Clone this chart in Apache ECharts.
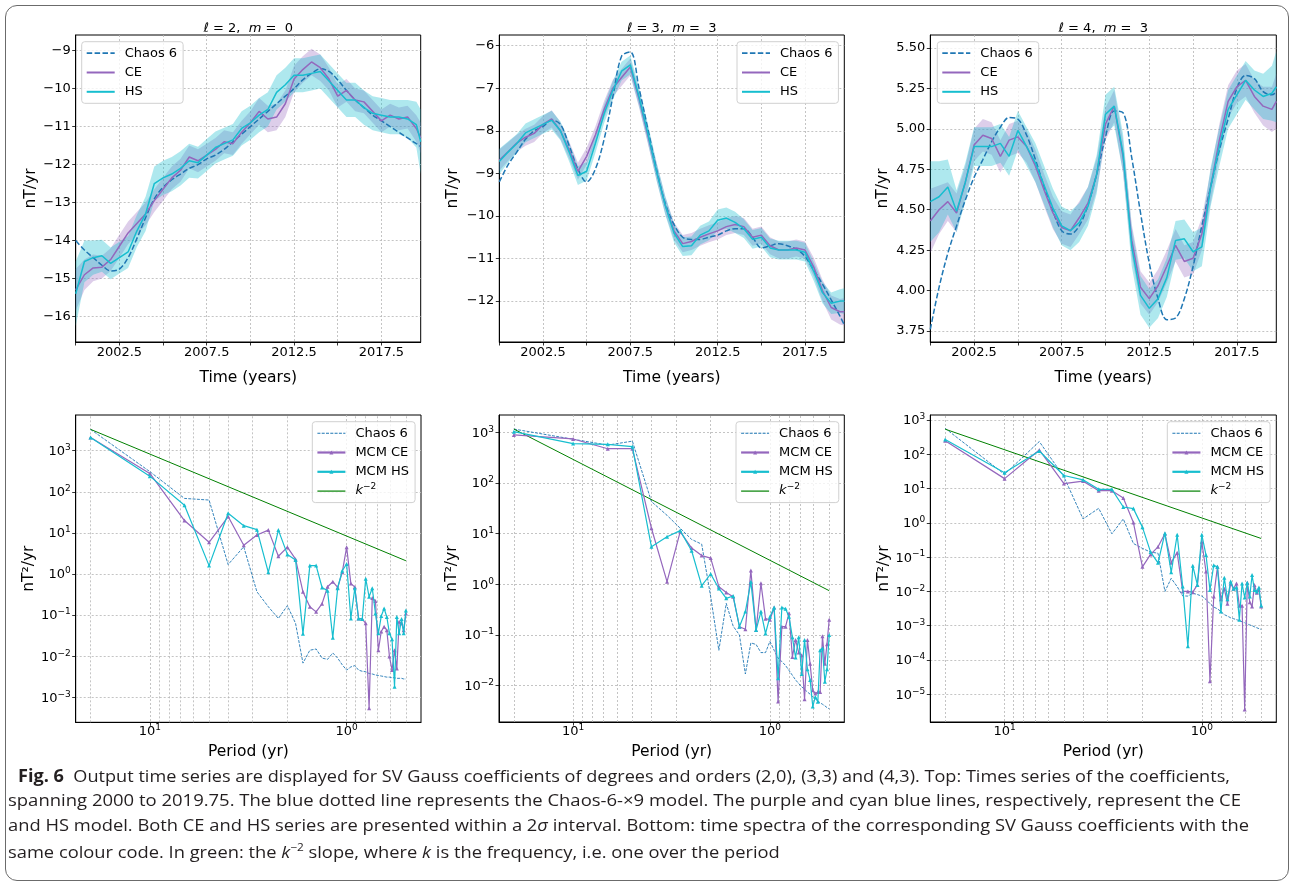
<!DOCTYPE html>
<html><head><meta charset="utf-8">
<script src="https://cdn.jsdelivr.net/npm/echarts@6.0.0/dist/echarts.min.js"></script>
<style>
html,body{margin:0;padding:0;background:#fff;}
body{width:1290px;height:882px;position:relative;overflow:hidden;}
#frame{position:absolute;left:5px;top:5px;width:1284px;height:876px;border:1.5px solid #6b6b6b;border-radius:12px;box-sizing:border-box;}
#chart{position:absolute;left:0;top:0;width:1290px;height:882px;}
#cap{position:absolute;left:0;top:764px;font-family:'Open Sans',sans-serif;font-size:17px;color:#231f20;}
#cap .ln{position:absolute;white-space:nowrap;transform-origin:0 50%;line-height:24px;}
#cap i{font-style:italic;}
#cap sup{font-size:11px;line-height:0;}
</style></head><body>
<div id="frame"></div>
<div id="chart"></div>
<div id="cap">
<div class="ln" style="left:18px;top:0px"><b>Fig. 6</b>&nbsp; Output time series are displayed for SV Gauss coefficients of degrees and orders (2,0), (3,3) and (4,3). Top: Times series of the coefficients,</div>
<div class="ln" style="left:8px;top:24px">spanning 2000 to 2019.75. The blue dotted line represents the Chaos-6-×9 model. The purple and cyan blue lines, respectively, represent the CE</div>
<div class="ln" style="left:8px;top:49px">and HS model. Both CE and HS series are presented within a 2<i>σ</i> interval. Bottom: time spectra of the corresponding SV Gauss coefficients with the</div>
<div class="ln" style="left:8px;top:76px">same colour code. In green: the <i>k</i><sup>−2</sup> slope, where <i>k</i> is the frequency, i.e. one over the period</div>
</div>
<script>
// ---------- time axis (top row) ----------
const tTop = [2000,2000.5,2001,2001.5,2002,2002.5,2003,2003.5,2004,2004.5,
  2005,2005.5,2006,2006.5,2007,2007.5,2008,2008.5,2009,2009.5,
  2010,2010.5,2011,2011.5,2012,2012.5,2013,2013.5,2014,2014.5,
  2015,2015.5,2016,2016.5,2017,2017.5,2018,2018.5,2019,2019.5,2019.75];
const xTicksTop = [2000,2002.5,2005,2007.5,2010,2012.5,2015,2017.5];
const xLabelsTop = [2002.5,2007.5,2012.5,2017.5];

// ---- l=2, m=0 ----
const chaos20 = [-14.0,-14.25,-14.45,-14.65,-14.8,-14.75,-14.45,-13.95,-13.4,-12.9,
  -12.6,-12.4,-12.25,-12.1,-12.0,-11.85,-11.75,-11.6,-11.4,-11.2,
  -11.0,-10.8,-10.6,-10.4,-10.2,-10.0,-9.77,-9.6,-9.48,-9.55,
  -9.77,-10.05,-10.3,-10.5,-10.7,-10.85,-11.0,-11.15,-11.3,-11.45,-11.52];
const ce20 = [-15.3,-14.9,-14.72,-14.7,-14.5,-14.15,-13.8,-13.55,-13.3,-12.95,
  -12.65,-12.35,-12.15,-11.8,-11.9,-11.75,-11.6,-11.4,-11.45,-11.15,
  -10.9,-10.6,-10.8,-10.75,-10.4,-9.75,-9.5,-9.3,-9.45,-9.75,
  -10.2,-10.05,-10.3,-10.35,-10.6,-10.85,-10.7,-10.8,-10.75,-11.05,-11.3];
const hs20 = [-15.4,-14.55,-14.45,-14.4,-14.6,-14.45,-14.3,-13.75,-13.3,-12.5,
  -12.35,-12.25,-12.1,-11.9,-11.95,-11.75,-11.55,-11.45,-11.35,-11.05,
  -10.9,-10.7,-10.55,-10.1,-9.9,-9.65,-9.65,-9.6,-9.55,-9.8,
  -10.05,-10.3,-10.3,-10.5,-10.65,-10.7,-10.75,-10.75,-10.8,-10.95,-11.4];
const ceSig20 = [0.55,0.4,0.35,0.3,0.3,0.3,0.3,0.3,0.3,0.3,
  0.3,0.3,0.3,0.3,0.3,0.3,0.3,0.3,0.3,0.3,
  0.3,0.35,0.35,0.35,0.35,0.35,0.35,0.35,0.35,0.3,
  0.3,0.3,0.3,0.3,0.3,0.3,0.3,0.3,0.3,0.35,0.4];
const hsSig20 = [0.85,0.55,0.45,0.42,0.42,0.42,0.42,0.42,0.45,0.45,
  0.45,0.45,0.45,0.45,0.42,0.42,0.42,0.42,0.42,0.45,
  0.45,0.45,0.45,0.45,0.45,0.45,0.45,0.45,0.45,0.45,
  0.45,0.45,0.45,0.45,0.45,0.45,0.45,0.45,0.5,0.6,0.85];
const yTicks20 = [-16,-15,-14,-13,-12,-11,-10,-9];

// ---- l=3, m=3 ----
const chaos33 = [-9.2,-8.8,-8.5,-8.2,-8.0,-7.9,-7.75,-7.85,-8.35,-8.9,
  -9.2,-8.9,-8.2,-7.2,-6.25,-6.15,-7.0,-7.95,-8.9,-9.7,
  -10.2,-10.5,-10.55,-10.55,-10.5,-10.45,-10.35,-10.3,-10.3,-10.5,
  -10.75,-10.7,-10.65,-10.7,-10.78,-10.95,-11.27,-11.6,-11.97,-12.35,-12.56];
const ce33 = [-8.69,-8.49,-8.29,-8.15,-8.06,-7.85,-7.72,-8.0,-8.45,-8.95,
  -8.6,-8.1,-7.5,-7.0,-6.75,-6.5,-7.25,-8.1,-8.95,-9.75,
  -10.35,-10.65,-10.6,-10.5,-10.42,-10.35,-10.25,-10.2,-10.25,-10.5,
  -10.45,-10.7,-10.8,-10.8,-10.75,-10.8,-11.2,-11.75,-12.15,-12.25,-12.25];
const hs33 = [-8.72,-8.5,-8.3,-8.05,-7.95,-7.85,-7.75,-8.0,-8.5,-9.05,
  -8.95,-8.3,-7.6,-7.05,-6.6,-6.45,-7.2,-8.05,-8.95,-9.75,
  -10.4,-10.72,-10.7,-10.45,-10.35,-10.1,-10.05,-10.15,-10.3,-10.55,
  -10.5,-10.75,-10.8,-10.8,-10.8,-10.85,-11.3,-11.8,-12.05,-12.0,-12.0];
const ceSig33 = [0.25,0.22,0.2,0.2,0.2,0.2,0.2,0.2,0.2,0.2,
  0.2,0.2,0.2,0.2,0.2,0.2,0.2,0.2,0.2,0.2,
  0.2,0.2,0.2,0.2,0.2,0.2,0.2,0.2,0.2,0.2,
  0.2,0.2,0.2,0.2,0.2,0.2,0.22,0.25,0.28,0.3,0.32];
const hsSig33 = [0.3,0.25,0.22,0.22,0.22,0.22,0.22,0.22,0.22,0.22,
  0.22,0.22,0.22,0.22,0.22,0.22,0.22,0.22,0.22,0.22,
  0.22,0.22,0.22,0.22,0.22,0.25,0.25,0.25,0.22,0.22,
  0.22,0.22,0.22,0.22,0.22,0.22,0.22,0.25,0.25,0.28,0.3];
const yTicks33 = [-12,-11,-10,-9,-8,-7,-6];

// ---- l=4, m=3 ----
const chaos43 = [3.76,4.02,4.23,4.4,4.56,4.7,4.81,4.92,5.01,5.07,
  5.06,4.96,4.81,4.64,4.49,4.37,4.35,4.4,4.53,4.72,
  4.95,5.11,5.1,4.82,4.48,4.17,3.95,3.82,3.83,3.95,
  4.15,4.4,4.64,4.87,5.06,5.25,5.33,5.31,5.23,5.21,5.23];
const ce43 = [4.43,4.5,4.55,4.48,4.67,4.9,4.96,4.94,4.83,4.93,
  4.95,4.89,4.77,4.62,4.48,4.39,4.37,4.45,4.54,4.72,
  5.03,5.14,4.83,4.31,4.02,3.95,4.03,4.15,4.28,4.18,
  4.2,4.35,4.64,4.93,5.17,5.26,5.3,5.2,5.14,5.12,5.17];
const hs43 = [4.55,4.58,4.64,4.49,4.67,4.89,4.89,4.89,4.91,4.83,
  4.99,4.89,4.79,4.65,4.51,4.4,4.37,4.42,4.52,4.72,
  5.09,5.14,4.85,4.27,3.97,3.89,3.95,4.08,4.31,4.32,
  4.24,4.27,4.64,4.89,5.12,5.21,5.3,5.24,5.2,5.22,5.26];
const ceSig43 = [0.2,0.15,0.12,0.12,0.1,0.1,0.1,0.1,0.1,0.1,
  0.1,0.1,0.1,0.1,0.1,0.1,0.1,0.1,0.1,0.1,
  0.1,0.1,0.1,0.1,0.1,0.1,0.1,0.1,0.1,0.1,
  0.1,0.1,0.1,0.1,0.1,0.1,0.1,0.1,0.12,0.14,0.17];
const hsSig43 = [0.25,0.22,0.17,0.13,0.12,0.12,0.12,0.12,0.12,0.12,
  0.12,0.12,0.12,0.12,0.12,0.12,0.12,0.12,0.12,0.12,
  0.12,0.12,0.12,0.12,0.12,0.12,0.12,0.12,0.12,0.12,
  0.12,0.12,0.12,0.12,0.12,0.12,0.12,0.12,0.14,0.17,0.22];
const yTicks43 = [3.75,4.0,4.25,4.5,4.75,5.0,5.25,5.5];

// ---------- spectra (bottom row) ----------
const periods = [20,10,6.667,5,4,3.333,2.857,2.5,2.222,2,
  1.818,1.667,1.538,1.429,1.333,1.25,1.176,1.111,1.053,1,
  0.952,0.909,0.870,0.833,0.8,0.769,0.741,0.714,0.690,0.667,
  0.645,0.625,0.606,0.588,0.571,0.556,0.541,0.526,0.513,0.5];
const kPeriods = [20,0.5];
const minorPeriods = [20,9,8,7,6,5,4,3,2,0.9,0.8,0.7,0.6,0.5];
const decadesX = [1,10];

const chaosS1 = [3300,310,69,63,1.7,4.6,0.37,0.16,0.083,0.17,
  0.063,0.0068,0.014,0.015,0.009,0.0084,0.012,0.009,0.0062,0.0046,
  0.0055,0.0059,0.0046,0.0043,0.0042,0.0038,0.0037,0.0035,0.0034,0.0033,
  0.0032,0.0031,0.0031,0.0030,0.0030,0.0029,0.0029,0.0029,0.0028,0.0028];
const ceS1 = [2100,280,20,5.9,25,5.0,8.9,11.7,2.7,4.5,
  2.3,0.37,0.16,0.12,0.19,0.49,0.65,0.47,1.1,4.5,
  0.59,0.48,0.083,0.08,0.063,0.00054,0.26,0.22,0.014,0.04,
  0.052,0.043,0.0098,0.0046,0.014,0.005,0.069,0.063,0.043,0.11];
const hsS1 = [2100,240,47,1.6,30,15,12,1.1,11.7,3.0,
  2.2,0.035,1.6,1.6,0.47,0.39,0.028,0.45,1.2,1.75,
  0.083,0.45,0.083,0.08,0.77,0.28,0.45,0.11,0.036,0.095,
  0.145,0.09,0.036,0.026,0.0018,0.09,0.036,0.08,0.036,0.13];
const kS1 = [3300,2.1];
const yTicksS1 = [1e-3,1e-2,1e-1,1,10,100,1000];

const chaosS2 = [1160,730,560,670,43,23,12.8,7.7,6.2,0.57,
  0.05,0.42,0.15,0.1,0.017,0.07,0.065,0.045,0.045,0.075,
  0.05,0.035,0.03,0.025,0.02,0.016,0.013,0.011,0.0095,0.0085,
  0.0075,0.0068,0.006,0.0055,0.005,0.0046,0.0043,0.004,0.0037,0.0035];
const ceS2 = [890,740,475,475,12.8,1.13,11,5.2,3.7,3.3,
  0.9,0.69,0.57,0.146,0.13,1.87,0.125,1.05,0.21,0.2,
  0.35,0.0049,0.146,0.146,0.27,0.037,0.08,0.045,0.04,0.0054,
  0.08,0.027,0.0081,0.007,0.0075,0.0075,0.095,0.027,0.066,0.2];
const hsS2 = [1030,600,580,520,5.5,8.7,11.5,4.6,0.94,1.6,
  0.83,0.53,0.59,0.146,0.29,1.12,0.125,0.29,0.107,0.23,
  0.35,0.014,0.35,0.33,0.23,0.09,0.036,0.09,0.017,0.08,
  0.021,0.013,0.0039,0.006,0.0048,0.05,0.055,0.012,0.021,0.1];
const kS2 = [1160,0.75];
const yTicksS2 = [1e-2,1e-1,1,10,100,1000];

const chaosS3 = [570,26,235,22,1.3,2.65,0.48,1.3,0.25,0.18,
  0.14,0.13,0.01,0.024,0.0138,0.0074,0.0073,0.0089,0.0081,0.0073,
  0.0058,0.0044,0.0035,0.0031,0.0026,0.0021,0.0019,0.0017,0.0016,0.0015,
  0.0014,0.0013,0.00122,0.00113,0.00105,0.001,0.00093,0.00087,0.00082,0.00078];
const ceS3 = [250,19.5,134,14,16.5,8.7,8.7,5.3,1.02,0.052,
  0.12,0.2,0.48,0.069,0.135,0.01,0.01,0.0095,0.0155,0.28,
  0.038,0.000024,0.0071,0.052,0.0059,0.012,0.0044,0.017,0.012,0.017,
  0.0038,0.0038,0.0000036,0.018,0.0048,0.0036,0.0155,0.0091,0.011,0.0036];
const hsS3 = [270,29,125,24,18,9.5,9.5,2.9,2.6,0.75,
  0.14,0.068,0.5,0.036,0.45,0.0138,0.00025,0.056,0.0155,0.45,
  0.115,0.011,0.058,0.052,0.0026,0.025,0.0059,0.0195,0.012,0.013,
  0.0015,0.017,0.0066,0.018,0.0071,0.03,0.011,0.01,0.013,0.0039];
const kS3 = [540,0.35];
const yTicksS3 = [1e-5,1e-4,1e-3,1e-2,1e-1,1,10,100,1000];

// ---------- styling / layout ----------
const FONT = 'DejaVu Sans';
const C_CHAOS = '#1f77b4', C_CE = '#9467bd', C_HS = '#17becf', C_K = '#008000';
const GRIDCOL = '#b5b5b5';

const topPanels = [
  {l:'2', m:'0', chaos:chaos20, ce:ce20, hs:hs20, ceSig:ceSig20, hsSig:hsSig20, ymin:-16.67, ymax:-8.59, yt:yTicks20, dec:0,
   grid:{left:75.7, top:35, width:345, height:307}, legend:{left:81.7, top:41.7}, nameGap:35},
  {l:'3', m:'3', chaos:chaos33, ce:ce33, hs:hs33, ceSig:ceSig33, hsSig:hsSig33, ymin:-12.96, ymax:-5.75, yt:yTicks33, dec:0,
   grid:{left:499.3, top:35, width:345, height:307}, legend:{left:737, top:41.7}, nameGap:38.5},
  {l:'4', m:'3', chaos:chaos43, ce:ce43, hs:hs43, ceSig:ceSig43, hsSig:hsSig43, ymin:3.682, ymax:5.58, yt:yTicks43, dec:2,
   grid:{left:930.3, top:35, width:346, height:307}, legend:{left:937.3, top:41.7}, nameGap:39.5}
];
const botPanels = [
  {chaos:chaosS1, ce:ceS1, hs:hsS1, k:kS1, ymin:2.47e-4, ymax:7380, yt:yTicksS1,
   grid:{left:75.7, top:415, width:345.3, height:307.3}, legend:{left:312.3, top:421.7}, nameGap:36},
  {chaos:chaosS2, ce:ceS2, hs:hsS2, k:kS2, ymin:1.92e-3, ymax:2198, yt:yTicksS2,
   grid:{left:499, top:415, width:345.3, height:307}, legend:{left:736, top:421.7}, nameGap:37.5},
  {chaos:chaosS3, ce:ceS3, hs:hsS3, k:kS3, ymin:1.55e-6, ymax:1400, yt:yTicksS3,
   grid:{left:930.3, top:415, width:346, height:307}, legend:{left:1167.3, top:421.7}, nameGap:37.5}
];

function pairs(xs, ys){ return xs.map((x,i)=>[x, ys[i]]); }
function minusFmt(v){ return (v<0?'\u2212':'') + Math.abs(v); }
function powLabel(v){
  const lg = Math.log10(v), e = Math.round(lg);
  if (Math.abs(lg-e) > 1e-6) return '';
  return '{b|10}{s|' + (e<0 ? '\u2212'+(-e) : e) + '}';
}
// band drawn as a polygon through the axes' own coordinate conversion
function bandSeries(i, name, center, sig, color, opacity){
  return {type:'custom', name:name, xAxisIndex:i, yAxisIndex:i, silent:true, z:1, clip:true,
    data:[[tTop[0], center[0]]],
    renderItem:(params, api) => {
      const up = tTop.map((t,k)=>api.coord([t, center[k]+sig[k]]));
      const lo = tTop.map((t,k)=>api.coord([t, center[k]-sig[k]])).reverse();
      return {type:'polygon', shape:{points:up.concat(lo)}, style:{fill:color, opacity:opacity}, silent:true};
    }};
}
const richPow = {
  b:{fontSize:13, fontFamily:FONT, color:'#000', lineHeight:15, verticalAlign:'bottom'},
  s:{fontSize:9, fontFamily:FONT, color:'#000', lineHeight:15, verticalAlign:'top'}
};
const splitLineStyle = {show:true, lineStyle:{color:GRIDCOL, width:0.8, type:[2,2]}};
const axisLineStyle = {show:true, onZero:false, lineStyle:{color:'#000', width:1}};
const legendCommon = {
  orient:'vertical', itemWidth:28, itemHeight:10, itemGap:0.3,
  padding:[2,6,2,4], borderColor:'#d0d0d0', borderWidth:1, borderRadius:3,
  backgroundColor:'rgba(255,255,255,0.8)', selectedMode:false,
  textStyle:{fontFamily:FONT, fontSize:13, color:'#000', lineHeight:19, padding:[0,0,0,5],
    rich:{
      i:{fontFamily:FONT, fontSize:13, fontStyle:'italic', color:'#000', lineHeight:19, verticalAlign:'middle'},
      s:{fontFamily:FONT, fontSize:9, color:'#000', lineHeight:19, verticalAlign:'top', padding:[1,0,0,0]}
    }}
};
const noMarker = {opacity:0, color:'transparent', borderWidth:0};

const grids = [], xAxes = [], yAxes = [], series = [], legends = [], graphics = [];

topPanels.forEach((p, i) => {
  grids.push(Object.assign({show:true, borderColor:'#000', borderWidth:1, backgroundColor:'transparent', containLabel:false}, p.grid));
  xAxes.push({type:'value', gridIndex:i, min:2000, max:2019.75,
    axisLine:axisLineStyle,
    axisTick:{show:true, length:3.5, lineStyle:{color:'#000', width:0.8}, customValues:xTicksTop},
    axisLabel:{customValues:xLabelsTop, formatter:v=>Number(v).toFixed(1), fontSize:13, fontFamily:FONT, color:'#000', margin:4},
    splitLine:splitLineStyle,
    name:'Time (years)', nameLocation:'middle', nameGap:28,
    nameTextStyle:{fontSize:15.5, fontFamily:FONT, color:'#000'}});
  yAxes.push({type:'value', gridIndex:i, min:p.ymin, max:p.ymax,
    axisLine:axisLineStyle,
    axisTick:{show:true, length:3.5, lineStyle:{color:'#000', width:0.8}, customValues:p.yt},
    axisLabel:{customValues:p.yt, formatter:v=> p.dec ? Number(v).toFixed(p.dec) : minusFmt(v), fontSize:13, fontFamily:FONT, color:'#000', margin:5},
    splitLine:splitLineStyle,
    name:'nT/yr', nameLocation:'middle', nameGap:p.nameGap, nameRotate:90,
    nameTextStyle:{fontSize:15.5, fontFamily:FONT, color:'#000'}});
  const common = {xAxisIndex:i, yAxisIndex:i, type:'line', symbol:'none', silent:true};
  series.push(bandSeries(i, '_ceBand'+i, p.ce, p.ceSig, C_CE, 0.32));
  series.push(bandSeries(i, '_hsBand'+i, p.hs, p.hsSig, C_HS, 0.35));
  series.push(Object.assign({}, common, {name:'Chaos 6', data:pairs(tTop,p.chaos), smooth:0.35, lineStyle:{color:C_CHAOS, width:1.5, type:[5.5,2.4]}, itemStyle:{color:C_CHAOS}, z:3}));
  series.push(Object.assign({}, common, {name:'CE', data:pairs(tTop,p.ce), lineStyle:{color:C_CE, width:1.5}, itemStyle:{color:C_CE}, z:4}));
  series.push(Object.assign({}, common, {name:'HS', data:pairs(tTop,p.hs), lineStyle:{color:C_HS, width:1.5}, itemStyle:{color:C_HS}, z:5}));
  legends.push(Object.assign({}, legendCommon, p.legend, {data:[
    {name:'Chaos 6', lineStyle:{width:1.8, type:[5.5,2.4]}, itemStyle:noMarker},
    {name:'CE', lineStyle:{width:2}, itemStyle:noMarker},
    {name:'HS', lineStyle:{width:2}, itemStyle:noMarker}]}));
  const cx = p.grid.left + p.grid.width/2;
  graphics.push({type:'text', x:cx, y:28.3, silent:true, style:{
    text:'{i|\u2113} = ' + p.l + ',  {i|m} =  ' + p.m, align:'center', verticalAlign:'middle',
    fontSize:13, fontFamily:FONT, fill:'#000',
    rich:{i:{fontStyle:'italic', fontSize:13, fontFamily:FONT, fill:'#000'}}}});
});

botPanels.forEach((p, j) => {
  const i = j + 3;
  grids.push(Object.assign({show:true, borderColor:'#000', borderWidth:1, backgroundColor:'transparent', containLabel:false}, p.grid));
  xAxes.push({type:'log', logBase:10, gridIndex:i, min:0.419, max:23.8, inverse:true,
    axisLine:axisLineStyle,
    axisTick:{show:true, length:3.5, lineStyle:{color:'#000', width:0.8}, customValues:decadesX},
    axisLabel:{customValues:decadesX, formatter:powLabel, rich:richPow, margin:1},
    splitLine:splitLineStyle,
    name:'Period (yr)', nameLocation:'middle', nameGap:22,
    nameTextStyle:{fontSize:15.5, fontFamily:FONT, color:'#000'}});
  yAxes.push({type:'log', logBase:10, gridIndex:i, min:p.ymin, max:p.ymax,
    axisLine:axisLineStyle,
    axisTick:{show:true, length:3.5, lineStyle:{color:'#000', width:0.8}, customValues:p.yt},
    axisLabel:{customValues:p.yt, formatter:powLabel, rich:richPow, margin:5},
    splitLine:splitLineStyle,
    name:'nT\u00b2/yr', nameLocation:'middle', nameGap:p.nameGap, nameRotate:90,
    nameTextStyle:{fontSize:15.5, fontFamily:FONT, color:'#000'}});
  const common = {xAxisIndex:i, yAxisIndex:i, type:'line', silent:true};
  series.push(Object.assign({}, common, {name:'Chaos 6', data:pairs(periods,p.chaos), symbol:'none',
    lineStyle:{color:C_CHAOS, width:0.9, type:[3,1.3]}, itemStyle:{color:C_CHAOS}, z:3}));
  series.push(Object.assign({}, common, {name:'MCM CE', data:pairs(periods,p.ce), symbol:'triangle', symbolSize:4, showSymbol:true, showAllSymbol:true,
    lineStyle:{color:C_CE, width:1.2}, itemStyle:{color:C_CE}, z:4}));
  series.push(Object.assign({}, common, {name:'MCM HS', data:pairs(periods,p.hs), symbol:'triangle', symbolSize:4, showSymbol:true, showAllSymbol:true,
    lineStyle:{color:C_HS, width:1.2}, itemStyle:{color:C_HS}, z:5}));
  series.push(Object.assign({}, common, {name:'k-2', data:pairs(kPeriods,p.k), symbol:'none',
    lineStyle:{color:C_K, width:1}, itemStyle:{color:C_K}, z:3,
    markLine:{silent:true, z:1, symbol:['none','none'], label:{show:false}, emphasis:{disabled:true},
      lineStyle:{color:GRIDCOL, width:0.8, type:[2,2]},
      data:minorPeriods.map(v=>({xAxis:v}))}}));
  legends.push(Object.assign({}, legendCommon, p.legend, {
    itemHeight:5,
    formatter: n => n === 'k-2' ? '{i|k}{s|\u22122}' : n,
    data:[
    {name:'Chaos 6', lineStyle:{width:1.1, type:[3,1.3]}, itemStyle:noMarker},
    {name:'MCM CE', lineStyle:{width:2.2}},
    {name:'MCM HS', lineStyle:{width:2.2}},
    {name:'k-2', lineStyle:{width:1.2}, itemStyle:noMarker}]}));
});

const chart = echarts.init(document.getElementById('chart'), null, {renderer:'canvas'});
chart.setOption({
  animation:false,
  backgroundColor:'transparent',
  textStyle:{fontFamily:FONT},
  grid:grids, xAxis:xAxes, yAxis:yAxes, series:series, legend:legends, graphic:graphics
});

// fit caption lines to the reference line ends
const targets = [1230, 1241, 1249, null];
const lines = document.querySelectorAll('#cap .ln');
let scales = [];
lines.forEach((el, k) => {
  if (targets[k] == null) return;
  const r = el.getBoundingClientRect();
  const s = (targets[k] - r.left) / r.width;
  scales.push(s);
  el.style.transform = 'scaleX(' + s + ')';
});
const avg = scales.reduce((a,b)=>a+b,0)/scales.length;
lines.forEach((el, k) => { if (targets[k] == null) el.style.transform = 'scaleX(' + avg + ')'; });
</script>
</body></html>
